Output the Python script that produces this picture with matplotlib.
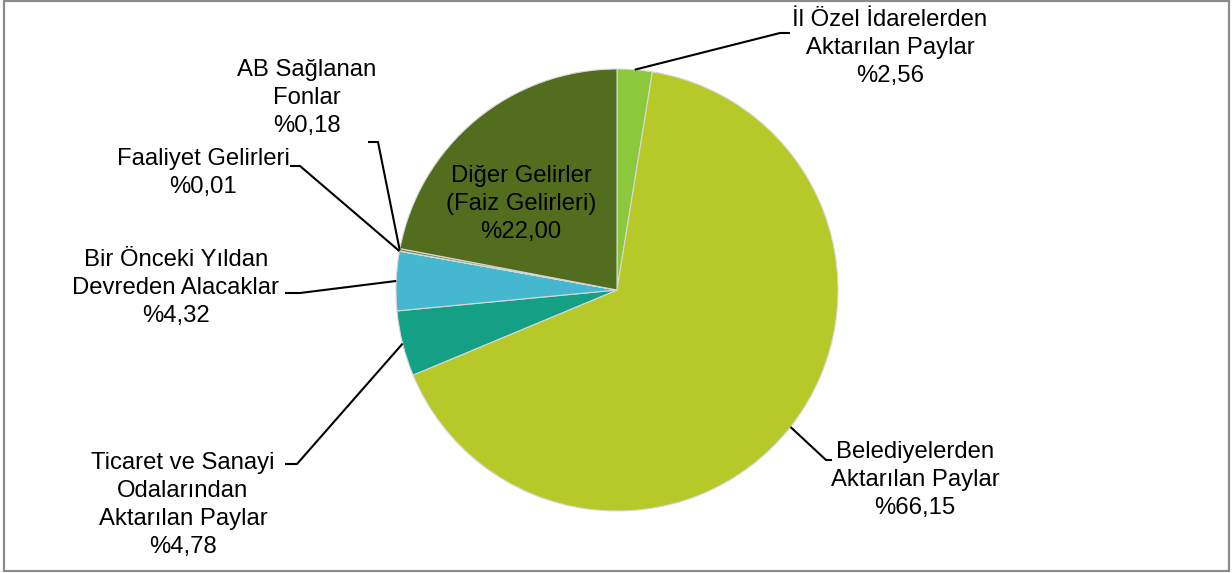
import numpy as np
import matplotlib
matplotlib.use("Agg")
import matplotlib.pyplot as plt
from matplotlib.patches import Rectangle

categories = ["İl Özel İdarelerden\nAktarılan Paylar",
              "Belediyelerden\nAktarılan Paylar",
              "Ticaret ve Sanayi\nOdalarından\nAktarılan Paylar",
              "Bir Önceki Yıldan\nDevreden Alacaklar",
              "Faaliyet Gelirleri",
              "AB Sağlanan\nFonlar",
              "Diğer Gelirler\n(Faiz Gelirleri)"]
values = [2.56, 66.15, 4.78, 4.32, 0.01, 0.18, 22.00]
value_labels = ["%2,56", "%66,15", "%4,78", "%4,32", "%0,01", "%0,18", "%22,00"]
colors = ["#8CC83C", "#B6C928", "#14A084", "#45B8CF", "#A0A0A0", "#7A8A50", "#536D1E"]

W, H = 1232, 573
fig = plt.figure(figsize=(W / 100, H / 100), dpi=100)
ax = fig.add_axes([0, 0, 1, 1])

cx, cy, r = 617, H - 290, 221
wedges, _ = ax.pie(values, colors=colors, startangle=90, counterclock=False,
                   center=(cx, cy), radius=r,
                   wedgeprops=dict(edgecolor="#d8d8d8", linewidth=0.8))
ax.set_xlim(0, W)
ax.set_ylim(0, H)
ax.set_aspect("equal")
ax.axis("off")

font = dict(family=["Liberation Sans", "DejaVu Sans"], fontsize=17.2, color="black",
            linespacing=1.37)

# label text centres (pixel coords, y from top) and leader elbow points
label_pos = {
    0: (890, 48),
    1: (915, 480),
    2: (183, 505),
    3: (176, 288),
    4: (203, 173),
    5: (307, 98),
}
leaders = {
    0: [(790, 33), (780, 33)],
    1: [(832, 460), (826, 460)],
    2: [(285, 464), (297, 464)],
    3: [(285, 293), (300, 293)],
    4: [(290, 166), (300, 166)],
    5: [(368, 142), (378, 142)],
}

def edge_point(w, frac=0.5):
    ang = np.deg2rad(w.theta1 + (w.theta2 - w.theta1) * frac)
    return cx + r * np.cos(ang), cy + r * np.sin(ang)

for i, w in enumerate(wedges):
    text = categories[i] + "\n" + value_labels[i]
    if i == 6:
        ax.text(521, H - 204, text, ha="center", va="center", **font)
        continue
    lx, ly = label_pos[i]
    ax.text(lx, H - ly, text, ha="center", va="center", **font)
    ex, ey = edge_point(w)
    pts = [(p[0], H - p[1]) for p in leaders[i]] + [(ex, ey)]
    ax.plot([p[0] for p in pts], [p[1] for p in pts], color="black", lw=1.5,
            solid_capstyle="butt")

ax.add_patch(Rectangle((4, H - 571), 1225, 570, fill=False, edgecolor="#8c8c8c",
                       linewidth=1.6))

fig.savefig("out.png", dpi=100)
